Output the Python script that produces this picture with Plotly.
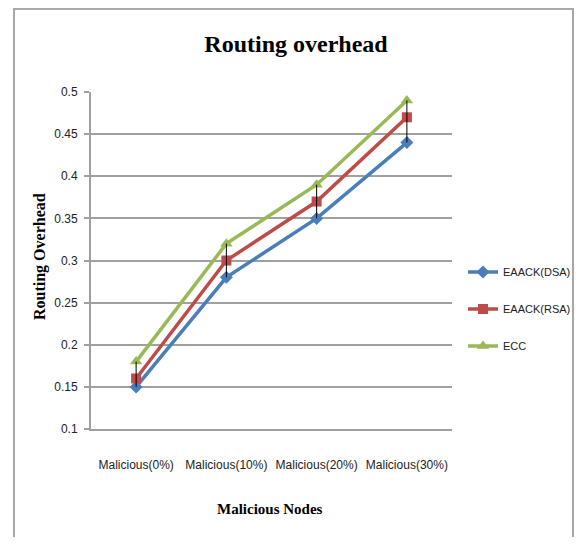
import plotly.graph_objects as go

categories = ["Malicious(0%)", "Malicious(10%)", "Malicious(20%)", "Malicious(30%)"]
eaack_dsa = [0.15, 0.28, 0.35, 0.44]
eaack_rsa = [0.16, 0.30, 0.37, 0.47]
ecc = [0.18, 0.32, 0.39, 0.49]
y_ticks = [0.1, 0.15, 0.2, 0.25, 0.3, 0.35, 0.4, 0.45, 0.5]
y_tick_labels = ["0.1", "0.15", "0.2", "0.25", "0.3", "0.35", "0.4", "0.45", "0.5"]

OFF = 8  # default page body margin
W, H = 582 - 2 * OFF, 545 - 2 * OFF
# plot area in page pixels: x 91..452, y 92..429
L = 91 - OFF
T = 92 - OFF
R = W - (452 - OFF)
B = H - (429 - OFF)
pw, ph = W - L - R, H - T - B

def px_x(p):
    return (p - OFF - L) / pw

def px_y(p):
    return (H - B - (p - OFF)) / ph

tick_font = dict(family="Liberation Sans, Arial, sans-serif", size=12, color="#222222")
serif = "Liberation Serif, Times New Roman, serif"

fig = go.Figure()

series = [
    ("EAACK(DSA)", eaack_dsa, "#4a7ebb", "diamond", 10),
    ("EAACK(RSA)", eaack_rsa, "#be4b48", "square", 10),
    ("ECC", ecc, "#98b954", "triangle-up", 11),
]
for name, vals, col, sym, sz in series:
    fig.add_trace(go.Scatter(
        x=categories, y=vals, name=name, mode="lines+markers",
        line=dict(color=col, width=3.5),
        marker=dict(symbol=sym, size=sz, color=col),
        legendgroup=name,
    ))

# high-low lines
hx, hy = [], []
for i, c in enumerate(categories):
    vals = [eaack_dsa[i], eaack_rsa[i], ecc[i]]
    hx += [c, c, None]
    hy += [max(vals), min(vals), None]
fig.add_trace(go.Scatter(x=hx, y=hy, mode="lines", line=dict(color="black", width=1),
                         showlegend=False, hoverinfo="skip"))

fig.update_layout(
    width=W, height=H,
    margin=dict(l=L, r=R, t=T, b=B, autoexpand=False),
    paper_bgcolor="white", plot_bgcolor="white",
    showlegend=True,
    legend=dict(
        x=px_x(463), y=px_y(309), xanchor="left", yanchor="middle",
        font=dict(family=tick_font["family"], size=11, color="#222222"),
        tracegroupgap=18, traceorder="grouped",
        bgcolor="rgba(0,0,0,0)",
    ),
    title=dict(text="<b>Routing overhead</b>", x=(296 - OFF) / W, xanchor="center",
               y=1 - (44 - OFF) / H, yanchor="middle", yref="container",
               font=dict(family=serif, size=24, color="black")),
)

fig.update_xaxes(
    type="category", categoryorder="array", categoryarray=categories,
    showline=True, linecolor="#a0a0a0", linewidth=2,
    showgrid=False, ticks="", tickfont=tick_font, tickangle=0,
    ticklabelstandoff=24,
    range=[-0.5, 3.5], fixedrange=True, automargin=False,
)
fig.update_yaxes(
    range=[0.1, 0.5], tickvals=y_ticks, ticktext=y_tick_labels,
    showline=True, linecolor="#a0a0a0", linewidth=2,
    showgrid=True, gridcolor="#a0a0a0", gridwidth=2,
    ticks="outside", ticklen=5, tickcolor="#a0a0a0", tickwidth=2,
    tickfont=tick_font, ticklabelstandoff=4, zeroline=False, automargin=False,
)

fig.add_annotation(text="<b>Routing Overhead</b>", textangle=-90, xref="paper", yref="paper",
                   x=px_x(40), y=px_y(256), xanchor="center", yanchor="middle", showarrow=False,
                   font=dict(family=serif, size=16, color="black"))
fig.add_annotation(text="<b>Malicious Nodes</b>", xref="paper", yref="paper",
                   x=px_x(270), y=px_y(509), xanchor="center", yanchor="middle", showarrow=False,
                   font=dict(family=serif, size=15, color="black"))

# outer chart border (kept within the figure area)
fig.add_shape(type="rect", xref="paper", yref="paper",
              x0=px_x(14), x1=px_x(573), y0=px_y(560), y1=px_y(9),
              line=dict(color="#a8a8a8", width=2), layer="below")

fig.write_html("out.html")
